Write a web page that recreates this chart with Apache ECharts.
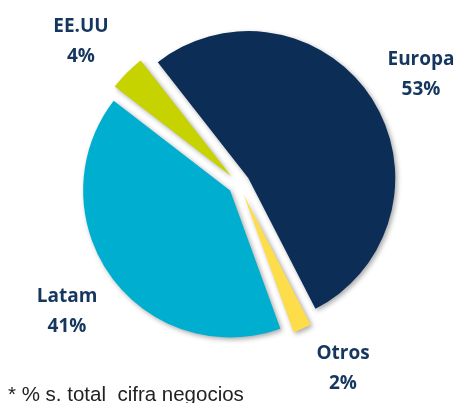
<!DOCTYPE html>
<html>
<head>
<meta charset="utf-8">
<script src="https://cdn.jsdelivr.net/npm/echarts@6/dist/echarts.min.js"></script>
<style>
  html, body { margin: 0; padding: 0; background: #fff; }
  #chart { width: 458px; height: 403px; }
</style>
</head>
<body>
<div id="chart"></div>
<script>
// datos
var regions = ['Europa', 'Otros', 'Latam', 'EE.UU'];
var shares = [53, 2, 41, 4];
var colors = ['#0b2d56', '#fedd4a', '#00afd0', '#c6d300'];
// centro de cada etiqueta
var labelPos = [[421, 75], [343, 369], [67, 312], [81, 42]];

var chart = echarts.init(document.getElementById('chart'));

var data = regions.map(function (name, i) {
  return {
    name: name,
    value: shares[i],
    selected: true,
    itemStyle: { color: colors[i] }
  };
});

var total = shares.reduce(function (a, b) { return a + b; }, 0);
var labels = regions.map(function (name, i) {
  return {
    type: 'text',
    x: labelPos[i][0],
    y: labelPos[i][1],
    style: {
      text: name + '\n' + Math.round(shares[i] / total * 100) + '%',
      fontFamily: 'Open Sans',
      fontWeight: 'bold',
      fontSize: 19,
      lineHeight: 30,
      fill: '#15375f',
      align: 'center',
      verticalAlign: 'middle'
    }
  };
});

chart.setOption({
  animation: false,
  series: [{
    type: 'pie',
    center: [239, 184],
    radius: [0, 147],
    startAngle: 128,
    clockwise: true,
    selectedMode: 'multiple',
    selectedOffset: 11,
    itemStyle: {
      shadowBlur: 5,
      shadowColor: 'rgba(0,0,0,0.35)',
      shadowOffsetX: 2,
      shadowOffsetY: 2
    },
    select: {
      itemStyle: { borderWidth: 0 }
    },
    label: { show: false },
    labelLine: { show: false },
    emphasis: { disabled: true },
    data: data
  }],
  graphic: labels.concat([{
    type: 'text',
    left: 8,
    top: 385,
    style: {
      text: '* % s. total  cifra negocios',
      fontFamily: 'Liberation Sans',
      fontSize: 20.5,
      fill: '#222'
    }
  }])
});
</script>
</body>
</html>
